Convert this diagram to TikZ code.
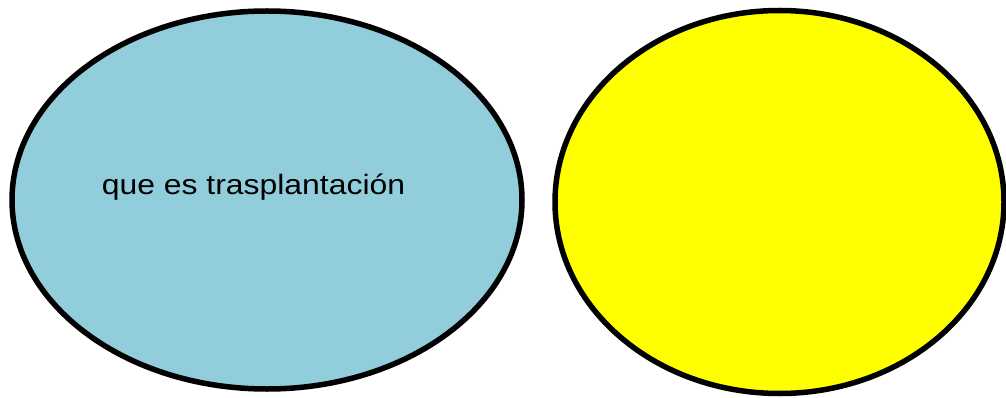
\documentclass[tikz,border=0pt]{standalone}
\usepackage{fontspec}
\setmainfont{Liberation Sans}
\usetikzlibrary{shapes.geometric}
\definecolor{aqua}{HTML}{92CDDC}
\definecolor{yel}{HTML}{FFFF00}
\tikzset{
  oval/.style={ellipse, draw=black, line width=5.5pt, inner sep=0pt, outer sep=0pt},
  lbl/.style={font=\fontsize{28pt}{32pt}\selectfont, inner sep=0pt, anchor=base, xscale=1.14, transform shape}
}
\begin{document}
\begin{tikzpicture}[x=1pt,y=-1pt]
\useasboundingbox (0,0) rectangle (1006,398);
\node[oval, fill=aqua, minimum width=510pt, minimum height=378pt] (left) at (267,200) {};
\node[oval, fill=yel, minimum width=449pt, minimum height=383pt] (right) at (779.5,202) {};
\node[lbl] (txt) at (253.5,195) {que es trasplantación};
\end{tikzpicture}
\end{document}
